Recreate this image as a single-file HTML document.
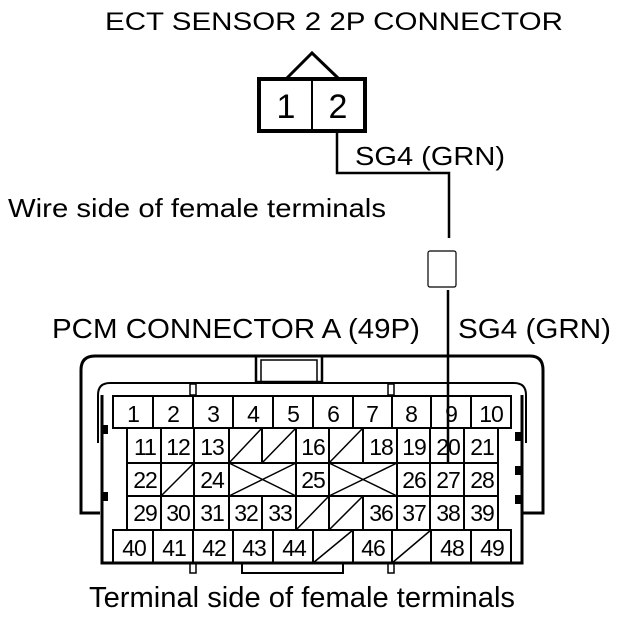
<!DOCTYPE html>
<html><head><meta charset="utf-8"><style>
html,body{margin:0;padding:0;background:#fff;}
svg{display:block;}
text{font-family:"Liberation Sans",Arial,sans-serif;fill:#000;}
</style></head><body>
<svg width="624" height="618" viewBox="0 0 624 618" xmlns="http://www.w3.org/2000/svg">
<g font-size="26">
<text x="105" y="30" font-size="25" textLength="458" lengthAdjust="spacingAndGlyphs">ECT SENSOR 2 2P CONNECTOR</text>
<text x="355" y="165" textLength="150" lengthAdjust="spacingAndGlyphs">SG4 (GRN)</text>
<text x="8" y="217" textLength="378" lengthAdjust="spacingAndGlyphs">Wire side of female terminals</text>
<text x="52" y="338" font-size="28" textLength="368" lengthAdjust="spacingAndGlyphs">PCM CONNECTOR A (49P)</text>
<text x="458" y="338" font-size="28" textLength="153" lengthAdjust="spacingAndGlyphs">SG4 (GRN)</text>
<text x="89" y="607" font-size="29" textLength="426" lengthAdjust="spacingAndGlyphs">Terminal side of female terminals</text>
</g>
<g fill="none" stroke="#000">
<polyline points="287,78 312,53 338,78" stroke-width="3"/>
<rect x="259" y="79" width="106" height="52" stroke-width="4"/>
<line x1="312" y1="79" x2="312" y2="131" stroke-width="2"/>
<polyline points="337,131 337,173 449,173 449,238" stroke-width="2.5"/>
<rect x="428" y="251" width="28" height="36" rx="2" stroke-width="1.2"/>
<line x1="448" y1="290" x2="448" y2="463" stroke-width="2.5"/>
</g>
<g font-size="34" text-anchor="middle"><text x="286" y="118">1</text><text x="338" y="118">2</text></g>
<g fill="none" stroke="#000" stroke-width="3">
<path d="M100,513 L81,513 L81,370 Q81,356 95,356 L530,356 Q543,356 543,370 L543,513 L522,513"/>
<path d="M98,443 L98,395 Q98,383 110,383 L514,383 Q526,383 526,395 L526,443" stroke-width="2"/>
<path d="M102,395 L102,563 L522,563 L522,395"/>
<rect x="256" y="356" width="66" height="26" stroke-width="2.5"/>
<rect x="261" y="360" width="56" height="22" stroke-width="1.5"/>
<rect x="190" y="384" width="6" height="11" stroke-width="1.5"/>
<rect x="388" y="384" width="6" height="11" stroke-width="1.5"/>
<rect x="190" y="563" width="6" height="10" stroke-width="1.5"/>
<rect x="388" y="563" width="6" height="10" stroke-width="1.5"/>
<rect x="242" y="563" width="101" height="10" stroke-width="2"/>
</g>
<g fill="#000">
<rect x="101" y="425" width="7" height="9"/><rect x="101" y="492" width="7" height="9"/>
<rect x="515" y="432" width="8" height="9"/><rect x="515" y="466" width="8" height="9"/><rect x="515" y="495" width="8" height="9"/>
</g>
<g fill="none" stroke="#000" stroke-width="2">
<rect x="113" y="396" width="398" height="32"/>
<path d="M153,396V428M193,396V428M233,396V428M273,396V428M313,396V428M353,396V428M392,396V428M431,396V428M471,396V428"/>
<rect x="127" y="428" width="371" height="102"/>
<path d="M127,463H498M127,496H498"/>
<path d="M161,428V463M194,428V463M229,428V463M262,428V463M296,428V463M329,428V463M363,428V463M397,428V463M430,428V463M464,428V463"/>
<path d="M161,463V496M194,463V496M229,463V496M296,463V496M329,463V496M397,463V496M430,463V496M464,463V496"/>
<path d="M161,496V530M194,496V530M229,496V530M262,496V530M296,496V530M329,496V530M363,496V530M397,496V530M430,496V530M464,496V530"/>
<rect x="113" y="530" width="398" height="33"/>
<path d="M153,530V563M193,530V563M233,530V563M273,530V563M313,530V563M353,530V563M392,530V563M431,530V563M471,530V563"/>
<g stroke-width="1.5">
<path d="M229,463L262,428M262,463L296,428M329,463L363,428"/>
<path d="M161,496L194,463"/>
<path d="M229,463L296,496M229,496L296,463M329,463L397,496M329,496L397,463"/>
<path d="M296,530L329,496M329,530L363,496"/>
<path d="M313,563L353,530M392,563L431,530"/>
</g>
</g>
<g font-size="23" text-anchor="middle" letter-spacing="-1">
<text x="133" y="422">1</text><text x="173" y="422">2</text><text x="213" y="422">3</text><text x="253" y="422">4</text><text x="293" y="422">5</text><text x="333" y="422">6</text><text x="372" y="422">7</text><text x="411" y="422">8</text><text x="451" y="422">9</text><text x="491" y="422">10</text>
<text x="145" y="455">11</text><text x="178" y="455">12</text><text x="212" y="455">13</text><text x="313" y="455">16</text><text x="381" y="455">18</text><text x="414" y="455">19</text><text x="448" y="455">20</text><text x="482" y="455">21</text>
<text x="145" y="488">22</text><text x="212" y="488">24</text><text x="313" y="488">25</text><text x="414" y="488">26</text><text x="448" y="488">27</text><text x="482" y="488">28</text>
<text x="145" y="521">29</text><text x="178" y="521">30</text><text x="212" y="521">31</text><text x="246" y="521">32</text><text x="280" y="521">33</text><text x="381" y="521">36</text><text x="414" y="521">37</text><text x="448" y="521">38</text><text x="482" y="521">39</text>
<text x="134" y="556">40</text><text x="174" y="556">41</text><text x="214" y="556">42</text><text x="254" y="556">43</text><text x="294" y="556">44</text><text x="373" y="556">46</text><text x="452" y="556">48</text><text x="492" y="556">49</text>
</g>
</svg>
</body></html>
